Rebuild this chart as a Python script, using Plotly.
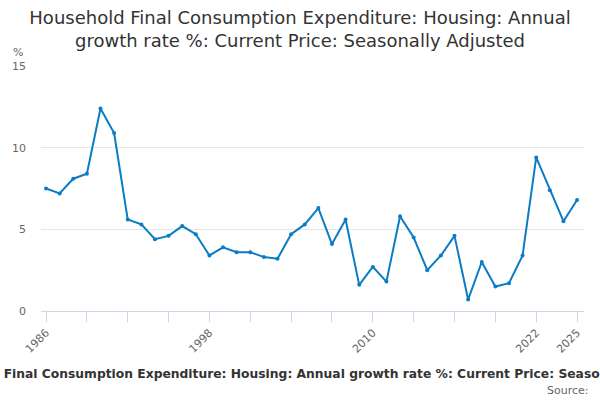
import plotly.graph_objects as go

# annual growth rate %
years = list(range(1986, 2026))
growth = [7.5, 7.2, 8.1, 8.4, 12.4, 10.9, 5.6, 5.3, 4.4, 4.6,
          5.2, 4.7, 3.4, 3.9, 3.6, 3.6, 3.3, 3.2, 4.7, 5.3,
          6.3, 4.1, 5.6, 1.6, 2.7, 1.8, 5.8, 4.5, 2.5, 3.4,
          4.6, 0.7, 3.0, 1.5, 1.7, 3.4, 9.4, 7.4, 5.5, 6.8]

tick_years = list(range(1986, 2023, 3)) + [2025]
tick_labels = [str(y) if y in (1986, 1998, 2010, 2022, 2025) else "" for y in tick_years]
y_ticks = [0, 5, 10, 15]

title = "Household Final Consumption Expenditure: Housing: Annual growth rate %: Current Price: Seasonally Adjusted"

fig = go.Figure()
fig.add_trace(go.Scatter(
    x=years, y=growth, mode="lines+markers",
    line=dict(color="#0b7cc4", width=2),
    marker=dict(color="#0b7cc4", size=4),
    hoverinfo="x+y",
))

fig.update_layout(
    width=600, height=400,
    margin=dict(l=39, r=16, t=66, b=89),
    paper_bgcolor="white", plot_bgcolor="white",
    font=dict(family="DejaVu Sans", color="#333333"),
    showlegend=False,
    title=dict(
        text="Household Final Consumption Expenditure: Housing: Annual<br>growth rate %: Current Price: Seasonally Adjusted",
        x=0.5, xanchor="center", y=0.94, yanchor="top",
        font=dict(size=18, color="#333333"),
    ),
    xaxis=dict(
        range=[1985.63, 2025.51],
        tickmode="array", tickvals=tick_years, ticktext=tick_labels,
        tickangle=-45, ticks="outside", ticklen=10, tickcolor="#ccd6eb",
        showline=True, linecolor="#ccd6eb", linewidth=1,
        showgrid=False, zeroline=False,
        tickfont=dict(size=11, color="#666666"),
    ),
    yaxis=dict(
        range=[0, 15], tickvals=y_ticks,
        showgrid=True, gridcolor="#e6e6e6", gridwidth=1,
        zeroline=False, showline=False, ticks="",
        ticklabelstandoff=14,
        tickfont=dict(size=11, color="#666666"),
    ),
    annotations=[
        dict(text="%", xref="paper", yref="paper", x=0, xshift=-30, y=1.0, yshift=14,
             xanchor="left", yanchor="middle", showarrow=False,
             font=dict(size=11, color="#666666")),
        dict(text="<b>" + title + "</b>", xref="paper", yref="paper",
             x=0.5, y=0, yshift=-63, xanchor="center", yanchor="middle",
             showarrow=False, font=dict(size=12.3, color="#333333")),
        dict(text="Source:", xref="paper", yref="paper",
             x=1, y=0, xshift=7, yshift=-79, xanchor="right", yanchor="middle",
             showarrow=False, font=dict(size=11, color="#666666")),
    ],
)

# drop the browser's default page margin so the chart sits at the top-left corner
fig.write_html("out.html", config={"displayModeBar": False},
               post_script="document.body.style.margin = '0';")
